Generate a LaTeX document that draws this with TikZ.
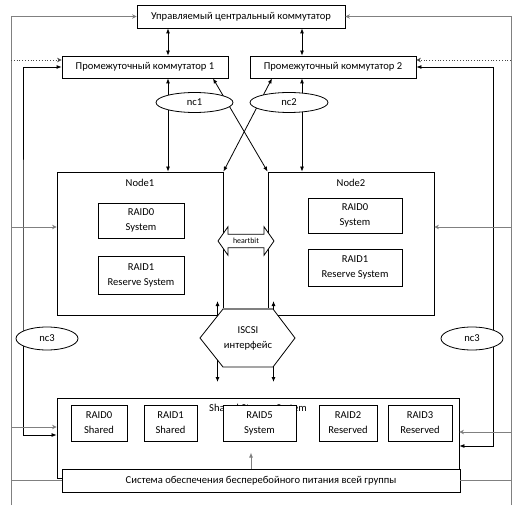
\documentclass[tikz,border=0pt]{standalone}
\usepackage{fontspec}
\setmainfont{Carlito}
\usetikzlibrary{arrows.meta,shapes.geometric,shapes.arrows}
\definecolor{lnkgray}{RGB}{128,128,128}
\definecolor{dotgray}{RGB}{70,70,70}

\begin{document}
\begin{tikzpicture}[x=1bp, y=-1bp, font=\fontsize{10.6}{15}\selectfont,
  box/.style={draw, line width=0.8bp, fill=white, align=center, inner sep=1bp},
  nc/.style={draw, ellipse, fill=white, line width=0.8bp, inner sep=0pt},
  dbl/.style={{Latex[length=5bp,width=4bp]}-{Latex[length=5bp,width=4bp]}, line width=0.8bp},
  barr/.style={-{Latex[length=5bp,width=4bp]}, line width=0.8bp},
  garr/.style={-{Stealth[length=4.5bp,width=4.5bp]}, lnkgray, line width=0.8bp},
  gline/.style={lnkgray, line width=0.8bp}]
  \useasboundingbox (0,0) rectangle (519,509);
  % ---- switches ----
  \node[box, minimum width=208bp, minimum height=23bp] (central) at (241,16.5) {Управляемый центральный коммутатор};
  \node[box, minimum width=166bp, minimum height=22bp] (sw1) at (145,67) {Промежуточный коммутатор 1};
  \node[box, minimum width=166bp, minimum height=22bp] (sw2) at (333,67) {Промежуточный коммутатор 2};
  % ---- cluster nodes ----
  \node[box, minimum width=166bp, minimum height=143bp] (node1) at (140,243.5) {};
  \node[box, minimum width=166bp, minimum height=143bp] (node2) at (351,243.5) {};
  \node (n1title) at (140,183) {Node1};
  \node (n2title) at (351,183) {Node2};
  \node[box, minimum width=86bp, minimum height=35bp] (n1raid0) at (141,220.5) {RAID0\\System};
  \node[box, minimum width=86bp, minimum height=38bp] (n1raid1) at (141,275) {RAID1\\Reserve System};
  \node[box, minimum width=94bp, minimum height=35bp] (n2raid0) at (355,215.5) {RAID0\\System};
  \node[box, minimum width=94bp, minimum height=37bp] (n2raid1) at (355,267.5) {RAID1\\Reserve System};
  % ---- iSCSI hexagon ----
  \coordinate (hxA) at (223,309);
  \coordinate (hxB) at (273,309);
  \coordinate (hxC) at (295,338);
  \coordinate (hxD) at (273,367);
  \coordinate (hxE) at (223,367);
  \coordinate (hxF) at (200,338);
  \draw[fill=white, line width=0.8bp] (hxA) -- (hxB) -- (hxC) -- (hxD) -- (hxE) -- (hxF) -- cycle;
  \draw[lnkgray, line width=2bp] (hxA) -- (hxB);
  \node[align=center] (iscsi) at (248,338) {ISCSI\\интерфейс};
  \node[draw, fill=white, line width=0.8bp, double arrow, double arrow tip angle=110,
    double arrow head extend=7.5bp, minimum height=56bp, inner xsep=1bp, inner ysep=3.5bp,
    font=\fontsize{7.9}{9}\selectfont] (heart) at (246,241) {heartbit};
  % ---- shared storage and UPS ----
  \node[box, minimum width=402bp, minimum height=80bp] (shared) at (258,438) {};
  \node (shtitle) at (258,409) {Shared Storage System};
  \node[box, minimum width=56bp, minimum height=36bp] (sraid0) at (99,423) {RAID0\\Shared};
  \node[box, minimum width=53bp, minimum height=36bp] (sraid1) at (170.5,423) {RAID1\\Shared};
  \node[box, minimum width=73bp, minimum height=36bp] (sraid5) at (259.5,423) {RAID5\\System};
  \node[box, minimum width=58bp, minimum height=36bp] (sraid2) at (348,423) {RAID2\\Reserved};
  \node[box, minimum width=64bp, minimum height=36bp] (sraid3) at (420,423) {RAID3\\Reserved};
  \node[box, minimum width=398bp, minimum height=23bp] (ups) at (261,480.5) {Система обеспечения бесперебойного питания всей группы};
  \draw[barr, lnkgray] ([xshift=-10bp]ups.north) -- ([xshift=-10bp,yshift=16bp]ups.north);
  % ---- switch links ----
  \draw[dbl] ([xshift=23bp]sw1.north) -- ([xshift=23bp]sw1.north |- central.south);
  \draw[dbl] ([xshift=-31bp]sw2.north) -- ([xshift=-31bp]sw2.north |- central.south);
  \draw[dbl] ([xshift=23bp]sw1.south) -- ([xshift=23bp]sw1.south |- node1.north);
  \draw[dbl] ([xshift=-31bp]sw2.south) -- ([xshift=-31bp]sw2.south |- node2.north);
  \draw[dbl] ([xshift=68bp]sw1.south) -- (node2.north west);
  \draw[dbl] ([xshift=-61bp]sw2.south) -- (node1.north east);
  % ---- iSCSI links ----
  \draw[barr] ([xshift=-5.5bp,yshift=-7bp]hxA) -- ([xshift=-5.5bp,yshift=8bp]hxA);
  \draw[barr] ([xshift=0.5bp,yshift=-1bp]hxB) -- ([xshift=0.5bp,yshift=8bp]hxB);
  \draw[barr] ([xshift=-5.5bp,yshift=7bp]hxE) -- ([xshift=-5.5bp,yshift=-15bp]hxE);
  \draw[barr] ([xshift=0.5bp,yshift=1bp]hxD) -- ([xshift=0.5bp,yshift=-15bp]hxD);
  % ---- black storage links ----
  \coordinate (lk) at (23,250);
  \coordinate (rk) at (493,250);
  \draw[dbl] (sw1.west) -| (lk) |- ([yshift=3bp]shared.west);
  \draw[dbl] (sw2.east) -| (rk) |- ([yshift=-8bp]shared.east);
  % ---- gray management lines ----
  \coordinate (lb) at (11,505);
  \coordinate (rb) at (511,505);
  \draw[garr] (lb) |- (central.west);
  \draw[garr, dotted, dotgray] ([yshift=7bp]sw1.west -| lb) -- ([yshift=7bp]sw1.west);
  \draw[garr] ([yshift=16.5bp]node1.west -| lb) -- ([yshift=16.5bp]node1.west);
  \draw[garr] ([yshift=11bp]shared.west -| lb) -- ([yshift=11bp]shared.west);
  \draw[gline] (ups.west -| lb) -- (ups.west);
  \draw[garr] (rb) |- (central.east);
  \draw[garr, dotted, dotgray] ([yshift=7bp]sw2.east -| rb) -- ([yshift=7bp]sw2.east);
  \draw[garr] ([yshift=16.5bp]node2.east -| rb) -- ([yshift=16.5bp]node2.east);
  \draw[garr] ([yshift=6bp]shared.east -| rb) -- ([yshift=6bp]shared.east);
  \draw[gline] (ups.east -| rb) -- (ups.east);
  % ---- network controllers ----
  \node[nc, minimum width=77bp, minimum height=20bp] (nc1) at (194.5,102.5) {nc1};
  \node[nc, minimum width=78bp, minimum height=20bp] (nc2) at (289,102.5) {nc2};
  \node[nc, minimum width=62bp, minimum height=23bp] (nc3l) at (47,338.5) {nc3};
  \node[nc, minimum width=62bp, minimum height=23bp] (nc3r) at (472,338.5) {nc3};
\end{tikzpicture}
\end{document}
